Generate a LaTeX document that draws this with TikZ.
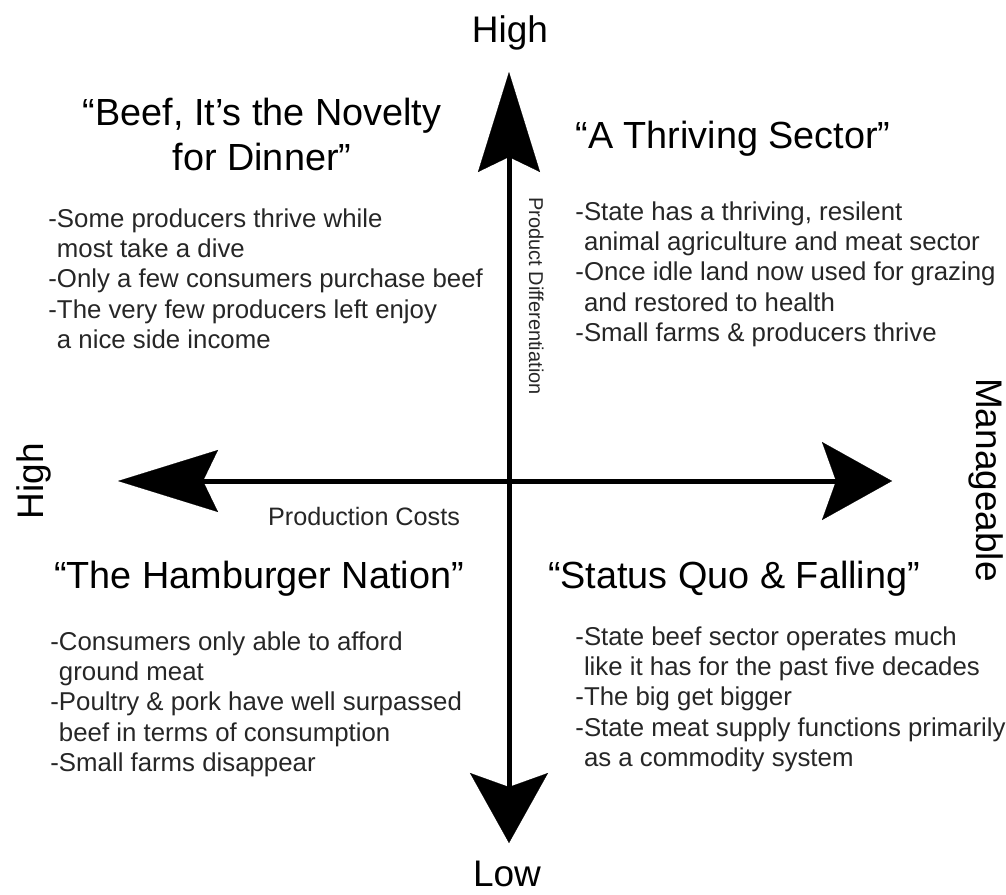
\documentclass[tikz,border=0pt]{standalone}
\usepackage{fontspec}
\setmainfont{Liberation Sans}
\usetikzlibrary{positioning, arrows.meta}

\tikzset{
  axis/.style={line width=2.5pt,
    {Stealth[length=50pt, width=31pt, inset=7.5pt, line width=0.1pt]}-{Stealth[length=35pt, width=39pt, inset=7pt, line width=0.1pt]}},
  title/.style={font=\fontsize{18.9}{22.5}\selectfont, inner sep=0pt, align=center},
  points/.style={font=\fontsize{12.9}{15.15}\selectfont, text=black!85, inner sep=0pt, align=left, anchor=north west},
  axislabel/.style={font=\fontsize{18.5}{22}\selectfont, inner sep=0pt, anchor=base},
  axisname/.style={text=black!85, inner sep=0pt, anchor=base}
}

\begin{document}
\begin{tikzpicture}[x=0.5pt, y=-0.5pt]
        \useasboundingbox (0,0) rectangle (1006,894);

        % the two axes
        \coordinate (top) at (509,72);
        \coordinate (bottom) at (509,843);
        \coordinate (left) at (118,481);
        \coordinate (right) at (892,481);
        \draw[axis] (top) -- (bottom);
        \draw[axis] (left) -- (right);

        \node[axislabel] (diffhigh) at (510,42) {High};
        \node[axislabel] (difflow) at (507,886) {Low};
        \node[axislabel, rotate=90] (costhigh) at (43,481) {High};
        \node[axislabel, rotate=-90] (costlow) at (976,480) {Manageable};
        \node[axisname, font=\fontsize{12.6}{15}\selectfont] (costs) at (364,525) {Production Costs};
        \node[axisname, font=\fontsize{10}{12}\selectfont, rotate=-90] (diff) at (529,296) {Product Differentiation};

        % top left
        \node[title, anchor=north] (novelty) at (262,98) {“Beef, It’s the Novelty\\for Dinner”};
        \node[points] (noveltytxt) at (48,208) {-Some producers thrive while\\\hphantom{-}most take a dive\\-Only a few consumers purchase beef\\-The very few producers left enjoy\\\hphantom{-}a nice side income};

        % top right
        \node[title, anchor=base] (thriving) at (733,148) {“A Thriving Sector”};
        \node[points] (thrivingtxt) at (575,201) {-State has a thriving, resilent\\\hphantom{-}animal agriculture and meat sector\\-Once idle land now used for grazing\\\hphantom{-}and restored to health\\-Small farms \& producers thrive};

        % bottom left
        \node[title, anchor=base] (hamburger) at (259,588) {“The Hamburger Nation”};
        \node[points] (hamburgertxt) at (50,631) {-Consumers only able to afford\\\hphantom{-}ground meat\\-Poultry \& pork have well surpassed\\\hphantom{-}beef in terms of consumption\\-Small farms disappear};

        % bottom right
        \node[title, anchor=base] (statusquo) at (734,588) {“Status Quo \& Falling”};
        \node[points] (statusquotxt) at (575,626) {-State beef sector operates much\\\hphantom{-}like it has for the past five decades\\-The big get bigger\\-State meat supply functions primarily\\\hphantom{-}as a commodity system};

    \end{tikzpicture}
\end{document}
